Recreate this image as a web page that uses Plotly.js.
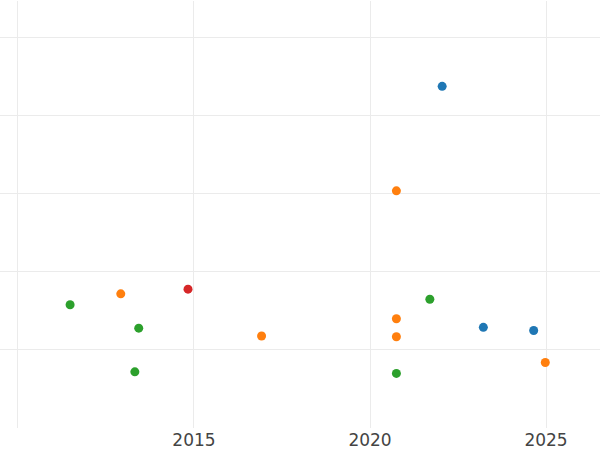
<!DOCTYPE html>
<html>
<head>
<meta charset="utf-8">
<script src="https://cdn.plot.ly/plotly-3.0.1.min.js"></script>
<style>html,body{margin:0;padding:0;background:#fff;}#chart{width:600px;height:450px;}</style>
</head>
<body>
<div id="chart"></div>
<script>
// Series data (x = year, y = value in arbitrary units)
const blueX = [2022.05, 2023.22, 2024.65];
const blueY = [4.38, 1.29, 1.25];

const orangeX = [2012.92, 2016.92, 2020.75, 2020.75, 2020.75, 2024.98];
const orangeY = [1.72, 1.18, 3.04, 1.40, 1.17, 0.84];

const greenX = [2011.48, 2013.43, 2013.32, 2021.70, 2020.75];
const greenY = [1.58, 1.28, 0.72, 1.65, 0.70];

const redX = [2014.83];
const redY = [1.78];

const xTicks = [2010, 2015, 2020, 2025];
const xTickLabels = ["", "2015", "2020", "2025"];

function series(x, y, color) {
  return {
    type: 'scatter', mode: 'markers', x: x, y: y,
    marker: {color: color, size: 9},
    showlegend: false, hoverinfo: 'x+y'
  };
}

const data = [
  series(blueX, blueY, '#1f77b4'),
  series(orangeX, orangeY, '#ff7f0e'),
  series(greenX, greenY, '#2ca02c'),
  series(redX, redY, '#d62728')
];

const layout = {
  width: 600, height: 450,
  margin: {l: 0, r: 0, t: 1, b: 22},
  paper_bgcolor: '#ffffff', plot_bgcolor: '#ffffff',
  font: {family: 'DejaVu Sans', size: 17, color: '#444444'},
  xaxis: {
    range: [2009.489, 2026.534],
    tickmode: 'array', tickvals: xTicks, ticktext: xTickLabels,
    showgrid: true, gridcolor: '#ebebeb', gridwidth: 1,
    zeroline: false, showline: false, ticks: '',
    ticklabelstandoff: 0,
    tickfont: {family: 'DejaVu Sans', size: 17, color: '#444444'}
  },
  yaxis: {
    range: [0, 5.474],
    tickvals: [0, 1, 2, 3, 4, 5],
    showticklabels: false,
    showgrid: true, gridcolor: '#ebebeb', gridwidth: 1,
    zeroline: false, showline: false, ticks: ''
  }
};

Plotly.newPlot('chart', data, layout, {displayModeBar: false, staticPlot: true});
</script>
</body>
</html>
